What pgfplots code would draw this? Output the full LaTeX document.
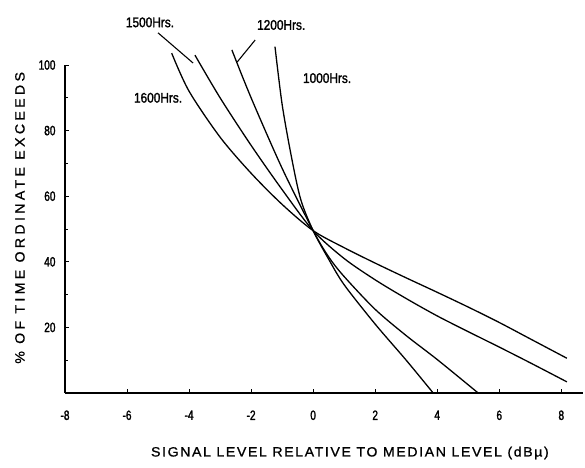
\documentclass[border=0pt]{standalone}
\usepackage{fontspec}
\setmainfont{Liberation Sans}
\newfontfamily\condfont[FakeStretch=0.75,FakeBold=1.8]{Liberation Sans}
\newfontfamily\curvefont[FakeStretch=0.85,FakeBold=1.5]{Liberation Sans}
\newfontfamily\labfont[FakeStretch=1.05,LetterSpace=12,FakeBold=1]{Liberation Sans}
\newfontfamily\ylabfont[FakeStretch=1.05,LetterSpace=25,FakeBold=1]{Liberation Sans}
\usepackage{pgfplots}
\pgfplotsset{compat=1.18}
\begin{document}
\begin{tikzpicture}
\begin{axis}[
  scale only axis,
  width=518bp, height=328bp,
  xmin=-8, xmax=8.7, ymin=0, ymax=100,
  axis lines=left,
  axis line style={line width=1.3pt,-},
  clip=false,
  xtick={-8,-6,...,8},
  ytick={20,40,60,80,100},
  minor ytick={10,30,50,70,90},
  tick align=inside,
  major tick length=4bp, minor tick length=3bp,
  tick style={line width=0.9pt,black},
  /pgf/number format/assume math mode=true,
  ticklabel style={font=\condfont\fontsize{13.5}{13.5}\selectfont},
  xticklabel style={yshift=-14bp},
  yticklabel style={xshift=-6bp},
  xlabel={SIGNAL LEVEL RELATIVE TO MEDIAN LEVEL (dB\textmu)},
  ylabel={\ylabfont\% OF TIME ORDINATE EXCEEDS},
  label style={font=\labfont\fontsize{13.5}{14}\selectfont},
  xlabel style={at={(axis description cs:0.55,0)},anchor=center,yshift=-60bp},
  ylabel style={at={(axis description cs:-0.087,0.534)},anchor=center},
]
\coordinate (sw) at (rel axis cs:0,0);
% 1600 Hrs
\addplot[black,line width=1.3pt,smooth] coordinates {
(-4.56,103.6) (-4,92) (-3,78) (-2,67) (-1,57.5) (0,49.5) (1,44.3) (2,39.6) (3,35.1) (4,30.7) (5,26.2) (6,21.5) (7,16.5) (8.18,10.6)};
% 1500 Hrs
\addplot[black,line width=1.3pt,smooth] coordinates {
(-3.81,103) (-3,90) (-2,75.5) (-1,62) (0,49.5) (1,41) (2,34.5) (3,28.8) (4,23.5) (5,18.7) (6,14) (7,9.2) (8.18,3.4)};
% 1200 Hrs
\addplot[black,line width=1.3pt,smooth] coordinates {
(-2.62,104.6) (-2,90) (-1,68.5) (0,49.5) (0.5,41.5) (1,35.5) (2,25.5) (3,17.5) (4,10.2) (5.32,0)};
% 1000 Hrs
\addplot[black,line width=1.3pt,smooth] coordinates {
(-1.23,105.6) (-1.0,88) (-0.7,72) (-0.4,59) (0,49.5) (0.5,40.8) (1,33) (2,21) (3,10) (3.87,0)};
\node[font=\curvefont\fontsize{14}{14}\selectfont] at (axis cs:-5.26,113) {1500Hrs.};
\node[font=\curvefont\fontsize{14}{14}\selectfont] at (axis cs:-1.03,112.2) {1200Hrs.};
\node[font=\curvefont\fontsize{14}{14}\selectfont] at (axis cs:0.45,96) {1000Hrs.};
\node[font=\curvefont\fontsize{14}{14}\selectfont] at (axis cs:-5.0,90) {1600Hrs.};
\draw[line width=1.1pt] (axis cs:-5.0,109.8) -- (axis cs:-3.87,100.6);
\draw[line width=1.1pt] (axis cs:-1.87,107.6) -- (axis cs:-2.45,100.9);
\end{axis}
\pgfresetboundingbox
\path (sw) ++(-65bp,-75bp) rectangle ++(585bp,468bp);
\end{tikzpicture}
\end{document}
